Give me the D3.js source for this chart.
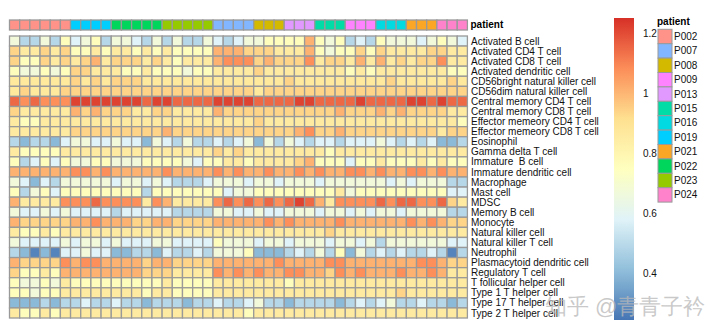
<!DOCTYPE html>
<html>
<head>
<meta charset="utf-8">
<script src="https://cdn.jsdelivr.net/npm/d3@7"></script>
<style>
body { margin: 0; background: #fff; }
text { font-family: "Liberation Sans", Arial, sans-serif; }
</style>
</head>
<body>
<svg id="chart" width="720" height="336"></svg>
<script>
var cellTypes = ["Activated B cell", "Activated CD4 T cell", "Activated CD8 T cell", "Activated dendritic cell",
  "CD56bright natural killer cell", "CD56dim natural killer cell", "Central memory CD4 T cell",
  "Central memory CD8 T cell", "Effector memeory CD4 T cell", "Effector memeory CD8 T cell", "Eosinophil",
  "Gamma delta T cell", "Immature  B cell", "Immature dendritic cell", "Macrophage", "Mast cell", "MDSC",
  "Memory B cell", "Monocyte", "Natural killer cell", "Natural killer T cell", "Neutrophil",
  "Plasmacytoid dendritic cell", "Regulatory T cell", "T follicular helper cell", "Type 1 T helper cell",
  "Type 17 T helper cell", "Type 2 T helper cell"];

var columnPatient = ["P002","P002","P002","P002","P002","P002","P019","P019","P019","P019",
  "P022","P022","P022","P022","P022","P023","P023","P023","P023","P023","P007","P007","P007","P007",
  "P008","P008","P008","P013","P013","P013","P015","P015","P015","P009","P009","P009",
  "P016","P016","P016","P021","P021","P021","P024","P024","P024"];

var patientLevels = ["P002","P007","P008","P009","P013","P015","P016","P019","P021","P022","P023","P024"];
var patientHues = [15, 255, 75, 315, 285, 165, 195, 225, 45, 135, 105, 345];

var legendTicks = [0.4, 0.6, 0.8, 1, 1.2];
var valueRange = [0.245, 1.252];
var palette = ["#4575B4","#91BFDB","#E0F3F8","#FFFFBF","#FEE090","#FC8D59","#D73027"];

// one row per cell type, one value per column (sample)
var values = [
[0.67,0.49,0.49,0.67,0.49,0.76,0.58,0.67,0.76,0.49,0.67,0.67,0.58,0.49,0.67,0.49,0.67,0.49,0.49,0.67,0.58,0.49,0.58,0.67,0.67,0.76,0.76,0.76,0.76,1.01,0.76,0.67,0.76,0.49,0.58,0.49,0.76,0.67,0.67,0.67,0.58,0.67,0.76,0.67,0.58],
[0.94,0.86,0.86,0.94,0.86,0.94,0.76,0.76,0.86,0.76,0.86,0.86,0.76,0.86,0.76,0.86,0.76,0.76,0.76,0.76,1.01,1.01,1.01,0.94,0.94,0.94,0.86,0.86,0.86,1.01,0.76,0.67,0.76,0.76,0.94,0.76,0.94,0.86,0.86,0.86,0.86,0.94,0.94,0.86,0.86],
[0.94,0.76,0.76,0.94,0.86,0.94,0.86,0.94,1.01,0.86,0.94,0.94,0.94,0.86,0.94,0.86,0.76,0.86,0.86,0.86,1.01,1.08,1.08,1.08,0.94,1.01,0.94,0.94,0.94,1.08,0.86,0.94,0.94,0.86,1.01,0.86,1.01,0.86,0.94,0.86,0.94,0.94,1.08,0.86,0.86],
[0.76,0.67,0.67,0.76,0.67,0.76,0.94,0.94,0.86,0.86,0.86,0.76,0.76,0.86,0.76,0.76,0.76,0.67,0.76,0.76,0.86,0.86,0.86,0.86,0.94,0.86,0.86,0.86,0.86,0.86,0.86,0.86,0.86,0.76,0.86,0.76,0.86,0.86,0.86,0.86,0.86,0.86,0.86,0.76,0.76],
[0.87,0.87,0.87,0.87,0.87,0.87,0.94,0.87,0.94,0.87,0.94,0.94,0.94,0.87,0.87,0.87,0.87,0.87,0.87,0.87,0.87,0.87,0.87,0.87,0.87,0.87,0.87,0.94,0.87,0.87,0.87,0.87,0.87,0.87,0.87,0.87,0.87,0.94,0.87,0.87,0.87,0.87,0.87,0.94,0.87],
[0.87,0.94,0.87,0.87,0.87,0.94,0.94,0.94,0.94,0.94,0.94,0.94,0.94,0.94,0.94,0.94,0.94,0.94,0.94,0.94,0.94,0.94,0.94,0.94,0.87,0.94,0.94,0.94,0.94,0.94,0.94,0.94,0.94,0.94,0.94,0.94,0.94,0.94,0.94,0.94,0.94,0.94,0.94,0.94,0.94],
[1.15,1.08,1.15,1.08,1.08,1.08,1.22,1.22,1.22,1.22,1.22,1.22,1.22,1.15,1.22,1.22,1.15,1.15,1.15,1.15,1.22,1.22,1.22,1.22,1.15,1.15,1.15,1.15,1.22,1.22,1.15,1.15,1.15,1.15,1.22,1.15,1.15,1.15,1.15,1.22,1.22,1.15,1.22,1.15,1.15],
[0.94,0.86,0.86,0.86,0.86,0.86,1.01,0.94,1.01,0.94,0.94,0.94,0.86,0.86,0.94,0.94,0.86,0.86,0.86,0.86,1.01,0.94,0.94,0.94,0.94,0.94,0.94,0.94,0.94,0.94,0.94,0.94,1.01,0.94,0.94,0.94,1.01,0.94,1.01,0.94,0.94,0.94,0.94,0.86,0.86],
[0.86,0.76,0.76,0.86,0.86,0.86,0.86,0.86,0.86,0.86,0.86,0.86,0.86,0.86,0.86,0.86,0.86,0.86,0.86,0.86,0.86,0.86,0.86,0.86,0.94,0.86,0.86,0.86,0.86,0.86,0.86,0.86,0.86,0.86,0.86,0.86,0.86,0.86,0.86,0.86,0.86,0.86,0.86,0.86,0.76],
[0.86,0.86,0.86,0.86,0.86,0.86,0.94,0.94,0.94,0.94,0.94,0.94,0.94,0.94,0.94,1.01,0.94,0.94,0.94,0.94,0.94,0.94,0.94,0.94,0.94,0.94,0.94,0.94,1.01,1.08,0.94,0.94,1.01,0.94,0.94,0.94,0.94,0.94,0.94,0.94,0.94,0.94,0.86,0.94,0.94],
[0.49,0.40,0.49,0.49,0.40,0.58,0.67,0.67,0.58,0.58,0.67,0.58,0.58,0.40,0.67,0.58,0.49,0.67,0.49,0.49,0.58,0.49,0.58,0.67,0.40,0.67,0.49,0.67,0.58,0.49,0.58,0.58,0.49,0.58,0.58,0.58,0.67,0.58,0.49,0.58,0.49,0.58,0.40,0.40,0.49],
[0.86,0.76,0.76,0.76,0.76,0.86,0.86,0.86,0.86,0.86,0.86,0.86,0.86,0.86,0.86,0.86,0.86,0.86,0.86,0.86,0.94,0.86,0.94,0.86,0.86,0.86,0.86,0.86,0.86,0.86,0.86,0.76,0.86,0.86,0.86,0.86,0.86,0.86,0.86,0.86,0.86,0.86,0.86,0.86,0.86],
[0.76,0.49,0.58,0.76,0.58,0.76,0.67,0.67,0.76,0.76,0.67,0.67,0.67,0.76,0.76,0.76,0.76,0.67,0.58,0.76,0.76,0.86,0.86,0.76,0.86,0.86,0.86,0.86,0.94,1.01,0.76,0.76,0.76,0.58,0.76,0.76,0.86,0.76,0.76,0.76,0.86,0.76,0.86,0.76,0.76],
[1.01,1.01,1.01,1.01,1.01,1.01,1.08,1.08,1.01,1.08,1.01,1.01,1.01,1.01,1.01,1.08,1.01,1.01,1.01,1.01,1.08,1.01,1.08,1.01,1.01,1.08,1.01,1.01,1.08,1.01,1.08,1.01,1.01,1.08,1.08,1.01,1.08,1.01,1.01,1.08,1.08,1.01,1.08,1.01,1.01],
[0.67,0.58,0.40,0.58,0.49,0.67,0.67,0.67,0.67,0.67,0.58,0.67,0.67,0.58,0.67,0.58,0.49,0.49,0.49,0.58,0.67,0.67,0.67,0.58,0.67,0.67,0.58,0.67,0.67,0.67,0.58,0.67,0.67,0.67,0.67,0.67,0.67,0.58,0.67,0.58,0.67,0.67,0.67,0.49,0.49],
[0.76,0.49,0.67,0.76,0.58,0.76,0.76,0.76,0.76,0.76,0.76,0.76,0.76,0.49,0.76,0.76,0.76,0.76,0.76,0.76,0.76,0.58,0.67,0.67,0.76,0.76,0.76,0.76,0.76,0.76,0.76,0.76,0.86,0.67,0.76,0.76,0.76,0.76,0.76,0.76,0.76,0.76,0.76,0.58,0.58],
[1.01,0.86,0.86,0.86,0.86,1.08,1.08,1.08,1.15,1.08,1.08,1.08,1.08,0.86,1.08,1.01,0.86,0.86,0.86,0.86,1.08,1.15,1.08,1.15,1.08,1.15,1.08,1.15,1.22,1.15,1.01,0.86,1.08,1.08,1.08,1.08,1.15,1.08,1.15,1.15,1.08,1.08,1.15,0.94,0.86],
[0.67,0.58,0.58,0.67,0.58,0.67,0.58,0.58,0.58,0.58,0.49,0.58,0.58,0.58,0.58,0.58,0.49,0.49,0.49,0.49,0.67,0.67,0.58,0.58,0.67,0.58,0.58,0.67,0.67,0.67,0.58,0.67,0.67,0.58,0.67,0.58,0.67,0.67,0.58,0.67,0.67,0.67,0.67,0.49,0.49],
[1.01,0.94,0.94,0.94,0.94,0.94,1.01,1.01,1.08,1.01,1.01,1.01,0.94,0.94,1.01,1.01,0.94,0.94,0.94,0.94,1.01,1.01,1.01,1.01,1.01,1.08,1.01,1.08,1.01,1.01,1.01,1.01,1.08,1.01,1.01,1.01,1.01,1.01,1.01,1.08,1.01,1.08,1.01,0.94,0.94],
[0.86,0.76,0.76,0.86,0.76,0.86,0.86,0.86,0.86,0.86,0.86,0.86,0.86,0.86,0.86,0.86,0.86,0.86,0.86,0.86,0.86,0.86,0.86,0.86,0.86,0.86,0.86,0.86,0.86,0.86,0.86,0.94,0.86,0.86,0.86,0.86,0.86,0.86,0.86,0.86,0.86,0.86,0.86,0.86,0.86],
[0.67,0.58,0.58,0.58,0.58,0.67,0.58,0.67,0.67,0.58,0.67,0.58,0.58,0.58,0.67,0.67,0.58,0.58,0.58,0.58,0.76,0.67,0.67,0.67,0.58,0.67,0.67,0.58,0.67,0.67,0.67,0.58,0.67,0.67,0.58,0.67,0.49,0.67,0.67,0.67,0.67,0.67,0.67,0.58,0.58],
[0.49,0.40,0.28,0.40,0.28,0.58,0.58,0.67,0.58,0.58,0.40,0.40,0.49,0.49,0.40,0.58,0.49,0.49,0.58,0.49,0.67,0.67,0.67,0.76,0.40,0.40,0.40,0.49,0.58,0.49,0.67,0.49,0.76,0.40,0.67,0.49,0.58,0.49,0.58,0.49,0.49,0.58,0.49,0.28,0.49],
[1.01,0.94,0.94,0.94,0.94,1.08,1.01,1.08,1.08,1.01,1.01,1.01,1.01,0.94,1.01,1.01,0.94,0.94,0.94,0.94,1.01,1.01,1.01,1.01,1.01,1.01,1.08,1.01,1.01,1.01,1.01,1.08,1.08,1.01,1.01,1.01,1.01,1.01,1.01,1.01,1.08,1.08,1.01,0.94,0.94],
[0.94,0.76,0.76,0.86,0.76,1.01,1.01,1.01,1.01,1.01,1.01,1.01,1.01,0.94,0.94,0.94,0.86,0.86,0.86,0.86,1.08,1.01,1.08,1.01,1.08,1.01,1.01,1.08,1.08,1.01,1.01,0.94,1.08,1.01,1.08,1.01,1.01,1.01,1.08,1.01,1.01,1.08,1.01,0.86,0.86],
[0.76,0.67,0.67,0.76,0.67,0.86,0.76,0.76,0.76,0.76,0.76,0.76,0.76,0.76,0.76,0.86,0.76,0.76,0.76,0.76,0.86,0.86,0.86,0.86,0.86,0.86,0.86,0.76,0.86,0.86,0.86,0.86,0.86,0.86,0.86,0.86,0.86,0.86,0.86,0.86,0.86,0.86,0.86,0.86,0.86],
[0.76,0.76,0.67,0.76,0.76,0.86,0.86,0.86,0.86,0.86,0.86,0.86,0.86,0.76,0.86,0.86,0.76,0.76,0.76,0.76,0.86,0.86,0.86,0.86,0.86,0.86,0.86,0.86,0.86,0.86,0.86,0.86,0.86,0.86,0.86,0.86,0.86,0.86,0.94,0.86,0.86,0.86,0.86,0.86,0.86],
[0.40,0.40,0.40,0.49,0.40,0.49,0.49,0.58,0.49,0.49,0.58,0.49,0.49,0.40,0.49,0.49,0.49,0.40,0.49,0.49,0.58,0.49,0.49,0.58,0.67,0.49,0.49,0.40,0.49,0.49,0.49,0.49,0.40,0.49,0.58,0.49,0.58,0.67,0.49,0.49,0.58,0.49,0.49,0.40,0.49],
[0.86,0.76,0.76,0.86,0.76,0.86,0.86,0.86,0.86,0.86,0.86,0.86,0.86,0.86,0.86,0.86,0.86,0.86,0.86,0.86,0.86,0.86,0.86,0.76,0.86,0.86,0.86,0.86,0.86,0.86,0.86,0.86,0.86,0.86,0.86,0.86,0.86,0.86,0.86,0.86,0.86,0.86,0.86,0.86,0.86]
];

// R's hcl() (polar LUV) -> hex, as used by scales::hue_pal(l = 75)
function hclLuv(h, c, l) {
  var Y = 100 * Math.pow((l + 16) / 116, 3);
  var u = c * Math.cos(h * Math.PI / 180), v = c * Math.sin(h * Math.PI / 180);
  var up = u / (13 * l) + 0.19784, vp = v / (13 * l) + 0.46834;
  var X = 9 * Y * up / (4 * vp);
  var Z = 3 * Y / vp - X / 3 - 5 * Y;
  var lin = [3.240479 * X - 1.53715 * Y - 0.498535 * Z,
    -0.969256 * X + 1.875992 * Y + 0.041556 * Z,
    0.055648 * X - 0.204043 * Y + 1.057311 * Z];
  var rgb = lin.map(function(t) {
    t = Math.max(0, Math.min(1, t / 100));
    t = t > 0.0031308 ? 1.055 * Math.pow(t, 1 / 2.4) - 0.055 : 12.92 * t;
    return Math.round(t * 255);
  });
  return d3.rgb(rgb[0], rgb[1], rgb[2]).formatHex();
}

var svg = d3.select("#chart");
var border = "#999999";

var x = d3.scaleBand().domain(d3.range(columnPatient.length)).range([9.5, 467.4]);
var y = d3.scaleBand().domain(cellTypes).range([36, 318]);
var stops = palette.map(function(_, i) { return valueRange[0] + (valueRange[1] - valueRange[0]) * i / (palette.length - 1); });
var color = d3.scaleLinear().domain(stops).range(palette);
var patientColor = d3.scaleOrdinal()
  .domain(patientLevels)
  .range(patientHues.map(function(h) { return hclLuv(h, 100, 75); }));

// column annotation
svg.append("g").selectAll("rect")
  .data(columnPatient)
  .enter().append("rect")
  .attr("x", function(d, i) { return x(i); })
  .attr("y", 20)
  .attr("width", x.bandwidth())
  .attr("height", 10)
  .attr("fill", function(d) { return patientColor(d); })
  .attr("stroke", border)
  .attr("stroke-width", 1.3);

svg.append("text")
  .attr("x", 470.5).attr("y", 28)
  .attr("font-size", 10).attr("font-weight", "bold")
  .text("patient");

// heatmap cells
var cells = [];
values.forEach(function(row, r) {
  row.forEach(function(v, c) { cells.push({ row: cellTypes[r], col: c, value: v }); });
});

svg.append("g").selectAll("rect")
  .data(cells)
  .enter().append("rect")
  .attr("x", function(d) { return x(d.col); })
  .attr("y", function(d) { return y(d.row); })
  .attr("width", x.bandwidth())
  .attr("height", y.bandwidth())
  .attr("fill", function(d) { return color(d.value); })
  .attr("stroke", border)
  .attr("stroke-width", 1.3);

svg.append("g").selectAll("text")
  .data(cellTypes)
  .enter().append("text")
  .attr("x", 471)
  .attr("y", function(d) { return y(d) + y.bandwidth() / 2 + 3.6; })
  .attr("font-size", 10)
  .attr("fill", "#111")
  .style("white-space", "pre")
  .text(function(d) { return d; });

// colour key
var grad = svg.append("defs").append("linearGradient")
  .attr("id", "key").attr("x1", 0).attr("y1", 1).attr("x2", 0).attr("y2", 0);
grad.selectAll("stop")
  .data(palette)
  .enter().append("stop")
  .attr("offset", function(d, i) { return i / (palette.length - 1); })
  .attr("stop-color", function(d) { return d; });

var keyY = d3.scaleLinear().domain(valueRange).range([320, 18]);
svg.append("rect")
  .attr("x", 614).attr("y", keyY(valueRange[1]))
  .attr("width", 20).attr("height", keyY(valueRange[0]) - keyY(valueRange[1]))
  .attr("fill", "url(#key)");

var keyAxis = svg.append("g")
  .attr("transform", "translate(640,0)")
  .call(d3.axisRight(keyY).tickValues(legendTicks).tickSize(0).tickPadding(3)
    .tickFormat(function(d) { return String(d); }));
keyAxis.select(".domain").remove();
keyAxis.selectAll("text")
  .attr("font-size", 10)
  .attr("font-family", "'Liberation Sans', Arial, sans-serif")
  .attr("fill", "#111");

// patient legend
svg.append("text")
  .attr("x", 657).attr("y", 25)
  .attr("font-size", 10).attr("font-weight", "bold")
  .text("patient");

var legend = svg.append("g").selectAll("g")
  .data(patientLevels)
  .enter().append("g")
  .attr("transform", function(d, i) { return "translate(658," + (29.3 + i * 14.4) + ")"; });
legend.append("rect")
  .attr("width", 14).attr("height", 14.4)
  .attr("fill", function(d) { return patientColor(d); })
  .attr("stroke", border).attr("stroke-width", 1);
legend.append("text")
  .attr("x", 16).attr("y", 10.8)
  .attr("font-size", 10).attr("fill", "#111")
  .text(function(d) { return d; });

// watermark
svg.append("text")
  .attr("x", 545).attr("y", 314)
  .attr("font-size", 22)
  .attr("font-family", "'Noto Sans CJK SC', sans-serif")
  .attr("fill", "#b8b8b8").attr("fill-opacity", 0.75)
  .text("知乎 @青青子衿");
</script>
</body>
</html>
